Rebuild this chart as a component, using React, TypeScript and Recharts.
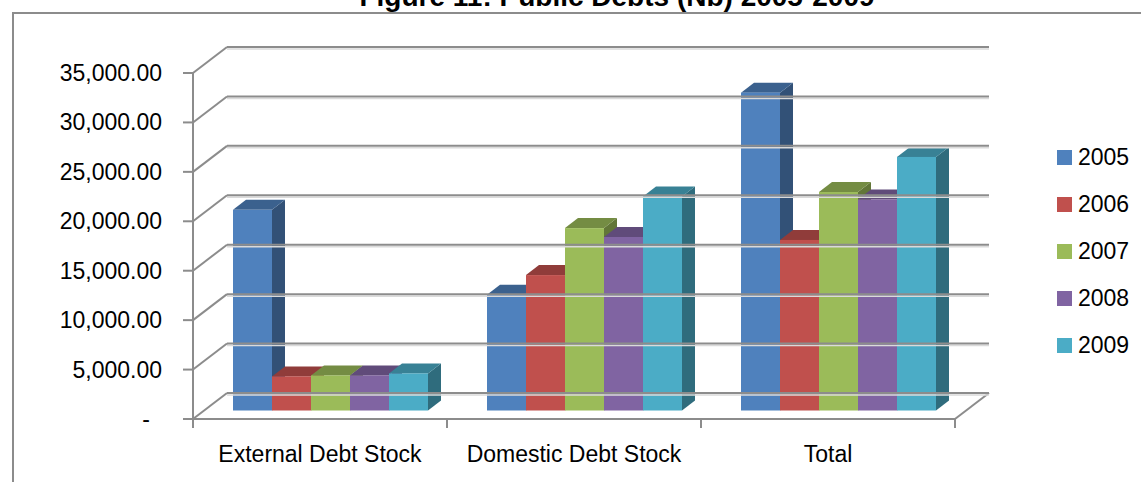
import React from "react";
import { BarChart, Bar, XAxis, YAxis, ReferenceLine, ReferenceArea, Legend } from "recharts";

// values
const categories = ["External Debt Stock", "Domestic Debt Stock", "Total"];
const years = ["2005", "2006", "2007", "2008", "2009"];
const debt2005 = [20300, 11700, 32150];
const debt2006 = [3450, 13700, 17250];
const debt2007 = [3550, 18450, 22100];
const debt2008 = [3550, 17550, 21350];
const debt2009 = [3750, 21650, 25650];
const yTicks = [0, 5000, 10000, 15000, 20000, 25000, 30000, 35000];

const colors = ["#4F81BD", "#C0504D", "#9BBB59", "#8064A2", "#4BACC6"];
const series = [debt2005, debt2006, debt2007, debt2008, debt2009];

const data = categories.map((name, i) => {
  const row: Record<string, any> = { name };
  years.forEach((yr, s) => {
    row[yr] = series[s][i];
  });
  return row;
});

// fake 3d: offsets from the bar plane
const FRONT = { dx: -11, dy: 8.5 };
const BACK = { dx: 23, dy: -17.5 };
const BAR_DEPTH = { dx: 13, dy: -10 };
const GRID = "#8C8C8C";
const FONT = "'Liberation Sans', Arial, sans-serif";
const LEGEND_W = 84;

function shade(hex: string, k: number) {
  const n = parseInt(hex.slice(1), 16);
  const r = Math.round(((n >> 16) & 255) * k);
  const g = Math.round(((n >> 8) & 255) * k);
  const b = Math.round((n & 255) * k);
  return `rgb(${r},${g},${b})`;
}

function Bar3D(props: any) {
  const { x, y, width: w, height: h, fill } = props;
  if (!h || h <= 0) return null;
  const { dx, dy } = BAR_DEPTH;
  return (
    <g>
      <polygon
        points={`${x + w},${y} ${x + w + dx},${y + dy} ${x + w + dx},${y + h + dy} ${x + w},${y + h}`}
        fill={shade(fill, 0.63)}
      />
      <polygon
        points={`${x},${y} ${x + dx},${y + dy} ${x + w + dx},${y + dy} ${x + w},${y}`}
        fill={shade(fill, 0.75)}
      />
      <rect x={x} y={y} width={w} height={h} fill={fill} />
    </g>
  );
}

function fmt(v: number) {
  if (v === 0) return "-";
  return v.toLocaleString("en-US", { minimumFractionDigits: 2, maximumFractionDigits: 2 });
}

function gridShape(value: number) {
  return (props: any) => {
    const { x1, x2, y1 } = props;
    const fx = x1 + FRONT.dx;
    const fy = y1 + FRONT.dy;
    const bx = x1 + BACK.dx;
    const by = y1 + BACK.dy;
    return (
      <g>
        <line x1={bx} y1={by + 2} x2={x2 + BACK.dx} y2={by + 2} stroke="#DADADA" strokeWidth={1.5} />
        <line x1={bx} y1={by} x2={x2 + BACK.dx} y2={by} stroke={GRID} strokeWidth={2} />
        <line x1={fx} y1={fy} x2={bx} y2={by} stroke={GRID} strokeWidth={2} />
        <line x1={fx - 10} y1={fy} x2={fx} y2={fy} stroke={GRID} strokeWidth={2} />
        <text
          x={value === 0 ? fx - 43 : fx - 31}
          y={fy}
          textAnchor="end"
          dominantBaseline="central"
          fontFamily={FONT}
          fontSize={23}
          fill="#000"
        >
          {fmt(value)}
        </text>
      </g>
    );
  };
}

function Frame(props: any) {
  const { x, y, width, height } = props;
  const left = x + FRONT.dx;
  const right = x + width + FRONT.dx;
  const top = y + FRONT.dy;
  const bottom = y + height + FRONT.dy;
  const step = width / categories.length;
  const ticks = categories.map((_, i) => left + step * (i + 1));
  return (
    <g>
      <line x1={left} y1={top} x2={left} y2={bottom + 9} stroke={GRID} strokeWidth={2} />
      <line x1={left} y1={bottom} x2={right} y2={bottom} stroke={GRID} strokeWidth={2} />
      <line
        x1={right}
        y1={bottom}
        x2={x + width + BACK.dx}
        y2={y + height + BACK.dy}
        stroke={GRID}
        strokeWidth={2}
      />
      {ticks.map((tx, i) => (
        <line key={i} x1={tx} y1={bottom} x2={tx} y2={bottom + 9} stroke={GRID} strokeWidth={2} />
      ))}
    </g>
  );
}

function CategoryTick(props: any) {
  const { x, y, payload } = props;
  return (
    <text x={x + FRONT.dx} y={y + 51.5} textAnchor="middle" fontFamily={FONT} fontSize={23} fill="#000">
      {payload.value}
    </text>
  );
}

function LegendBox(props: any) {
  const { payload } = props;
  return (
    <div style={{ fontFamily: FONT, fontSize: 23 }}>
      {(payload || []).map((p: any) => (
        <div key={p.value} style={{ height: 47, display: "flex", alignItems: "center" }}>
          <span style={{ width: 15, height: 15, background: p.color, display: "inline-block", marginRight: 6 }} />
          <span>{p.value}</span>
        </div>
      ))}
    </div>
  );
}

export default function App() {
  return (
    <div
      style={{
        position: "absolute",
        left: 0,
        top: 0,
        width: 1141,
        height: 482,
        overflow: "hidden",
        background: "#fff",
      }}
    >
      <div
        style={{
          position: "absolute",
          left: 12,
          top: 12,
          width: 1200,
          height: 600,
          border: "2px solid #8C8C8C",
        }}
      />
      <div
        style={{
          position: "absolute",
          left: 0,
          width: 1234,
          top: -16.7,
          lineHeight: "28px",
          textAlign: "center",
          fontFamily: FONT,
          fontWeight: "bold",
          fontSize: 28,
        }}
      >
        Figure 11: Public Debts (Nb) 2005-2009
      </div>
      <div style={{ position: "absolute", left: 0, top: 0 }}>
        <BarChart
          width={1141}
          height={482}
          data={data}
          margin={{ top: 64.5, right: 175 - LEGEND_W, bottom: 0, left: 204 }}
          barCategoryGap={29}
          barGap={0}
        >
          <XAxis
            dataKey="name"
            axisLine={false}
            tickLine={false}
            tickSize={0}
            tickMargin={0}
            height={71.5}
            tick={<CategoryTick />}
            interval={0}
          />
          <YAxis hide domain={[0, 35000]} ticks={yTicks} />
          <ReferenceArea y1={0} y2={35000} shape={<Frame />} fill="none" ifOverflow="visible" />
          {yTicks.map((v) => (
            <ReferenceLine key={v} y={v} shape={gridShape(v)} ifOverflow="visible" />
          ))}
          {years.map((yr, i) => (
            <Bar key={yr} dataKey={yr} fill={colors[i]} shape={<Bar3D />} isAnimationActive={false} />
          ))}
          <Legend
            layout="vertical"
            align="right"
            verticalAlign="middle"
            width={LEGEND_W}
            content={<LegendBox />}
            wrapperStyle={{ position: "absolute", left: 1057, top: 133.5, width: LEGEND_W }}
          />
        </BarChart>
      </div>
    </div>
  );
}
